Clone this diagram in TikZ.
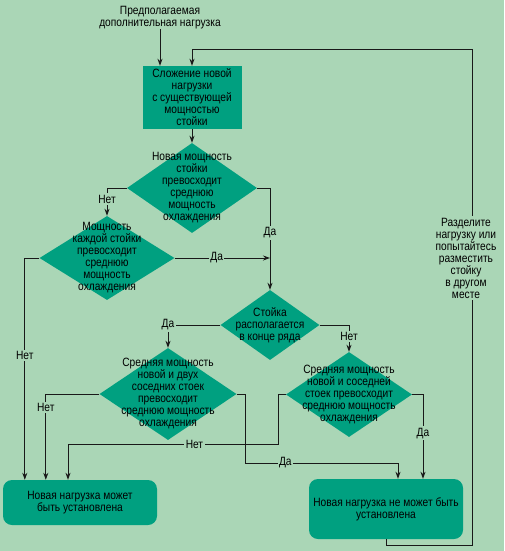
\documentclass[tikz,border=0pt]{standalone}
\usepackage{fontspec}
\setmainfont{Liberation Sans}[FakeStretch=0.85]
\usetikzlibrary{arrows.meta,shapes.geometric}
\definecolor{bggreen}{RGB}{170,214,182}
\definecolor{boxteal}{RGB}{0,160,128}

\begin{document}
\begin{tikzpicture}[x=1pt,y=-1pt,
  font=\fontsize{12}{12}\selectfont,
  arr/.style={draw=black!90, line width=0.9pt, -{Stealth[length=7pt,width=5pt]}},
  conn/.style={draw=black!90, line width=0.9pt},
  decision/.style={diamond, fill=boxteal, inner sep=0pt},
  block/.style={fill=boxteal, inner sep=0pt, align=center},
  lbl/.style={fill=bggreen, inner sep=1.5pt},
  txt/.style={align=center, inner sep=0pt}]
  \fill[bggreen] (0,0) rectangle (504,551);
  \useasboundingbox (0,0) rectangle (504,551);

  % blocks
  \node[txt] (load) at (160,17.5) {Предполагаемая\\дополнительная нагрузка};
  \node[block, minimum width=99pt, minimum height=63pt] (sum) at (192,97.5)
    {Сложение новой\\нагрузки\\с существующей\\мощностью\\стойки};
  \node[block, rounded corners=9pt, minimum width=154pt, minimum height=45pt] (ok) at (80,502.5)
    {Новая нагрузка может\\быть установлена};
  \node[block, rounded corners=9pt, minimum width=154pt, minimum height=60pt] (notok) at (386,509)
    {Новая нагрузка не может быть\\установлена};

  % decisions
  \node[decision, minimum width=130pt, minimum height=90pt] (exceed) at (192,188) {};
  \node[txt] (exceedtxt) at (exceed) {Новая мощность\\стойки\\превосходит\\среднюю\\мощность\\охлаждения};
  \node[decision, minimum width=135pt, minimum height=84pt] (each) at (107,258) {};
  \node[txt] (eachtxt) at (each) {Мощность\\каждой стойки\\превосходит\\среднюю\\мощность\\охлаждения};
  \node[decision, minimum width=99pt, minimum height=70pt] (rowend) at (270,325) {};
  \node[txt] (rowendtxt) at (rowend) {Стойка\\располагается\\в конце ряда};
  \node[decision, minimum width=137pt, minimum height=92pt] (twonb) at (168,394) {};
  \node[txt] (twonbtxt) at (twonb) {Средняя мощность\\новой и двух\\соседних стоек\\превосходит\\среднюю мощность\\охлаждения};
  \node[decision, minimum width=126pt, minimum height=85pt] (onenb) at (349,394.5) {};
  \node[txt] (onenbtxt) at (onenb) {Средняя мощность\\новой и соседней\\стоек превосходит\\среднюю мощность\\охлаждения};

  \coordinate (loopc) at (472,49);
  \coordinate (nojoin) at (68,444);
  \coordinate (yesjoin) at (398,463);

  % connectors
  \draw[arr] (load) -- (load |- sum.north);
  \draw[arr] (notok.south) -- ++(0,6) -| (loopc) -| (sum.north);
  \node[txt, fill=bggreen, inner sep=2pt] (advice) at (466,258)
    {Разделите\\нагрузку или\\попытайтесь\\разместить\\стойку\\в другом\\месте};
  \draw[arr] (sum) -- (exceed);
  \draw[arr] (exceed.west) -| node[lbl, pos=0.7] {Нет} (each.north);
  \draw[arr] (exceed.east) -| node[lbl, pos=0.72] {Да} (rowend.north);
  \draw[arr] (each.east) -- node[lbl, pos=0.44] {Да} (each.east -| rowend.north);
  \draw[arr] (rowend.west) -| node[lbl, pos=0.5] {Да} (twonb.north);
  \draw[arr] (rowend.east) -| node[lbl, pos=0.72] {Нет} (onenb.north);
  \draw[arr] (each.west) -| node[lbl, pos=0.72] {Нет} ([xshift=22pt]ok.north west);
  \draw[arr] (twonb.west) -| node[lbl, pos=0.58] {Нет} ([xshift=43pt]ok.north west);
  \draw[conn] (onenb.west) -- ++(-7,0) |- node[lbl, pos=0.7] {Нет} (nojoin);
  \draw[arr] (nojoin) -- (nojoin |- ok.north);
  \draw[conn] (twonb.east) -- ++(9,0) |- node[lbl, pos=0.63] {Да} (yesjoin);
  \draw[arr] (yesjoin) -- (yesjoin |- notok.north);
  \draw[arr] (onenb.east) -| node[lbl, pos=0.73] {Да} ([xshift=37pt]notok.north);
\end{tikzpicture}
\end{document}
